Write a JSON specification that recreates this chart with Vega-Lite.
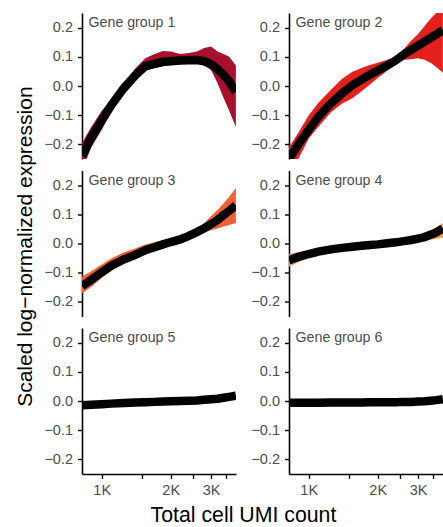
{
  "$schema": "https://vega.github.io/schema/vega-lite/v6.json",
  "padding": {"left": 14, "top": 13, "right": 0, "bottom": 0},
  "background": "white",
  "title": {"text": "Scaled log−normalized expression", "orient": "left", "anchor": "middle", "fontSize": 21, "fontWeight": "normal", "color": "black", "font": "Liberation Sans", "offset": 8, "dx": 23},
  "data": {"values": [
    {"group": "Gene group 1", "x": 820, "y": -0.24, "lo": -0.29, "hi": -0.195},
    {"group": "Gene group 1", "x": 900, "y": -0.176, "lo": -0.21, "hi": -0.14},
    {"group": "Gene group 1", "x": 1000, "y": -0.118, "lo": -0.15, "hi": -0.085},
    {"group": "Gene group 1", "x": 1100, "y": -0.066, "lo": -0.088, "hi": -0.045},
    {"group": "Gene group 1", "x": 1250, "y": -0.007, "lo": -0.025, "hi": 0.01},
    {"group": "Gene group 1", "x": 1400, "y": 0.036, "lo": 0.015, "hi": 0.06},
    {"group": "Gene group 1", "x": 1550, "y": 0.068, "lo": 0.052, "hi": 0.095},
    {"group": "Gene group 1", "x": 1700, "y": 0.076, "lo": 0.062, "hi": 0.11},
    {"group": "Gene group 1", "x": 1850, "y": 0.083, "lo": 0.068, "hi": 0.12},
    {"group": "Gene group 1", "x": 2000, "y": 0.085, "lo": 0.072, "hi": 0.118},
    {"group": "Gene group 1", "x": 2200, "y": 0.087, "lo": 0.075, "hi": 0.11},
    {"group": "Gene group 1", "x": 2400, "y": 0.088, "lo": 0.077, "hi": 0.113},
    {"group": "Gene group 1", "x": 2600, "y": 0.089, "lo": 0.078, "hi": 0.118},
    {"group": "Gene group 1", "x": 2800, "y": 0.085, "lo": 0.07, "hi": 0.13},
    {"group": "Gene group 1", "x": 3000, "y": 0.075, "lo": 0.055, "hi": 0.135},
    {"group": "Gene group 1", "x": 3200, "y": 0.058, "lo": 0.01, "hi": 0.118},
    {"group": "Gene group 1", "x": 3400, "y": 0.038, "lo": -0.04, "hi": 0.11},
    {"group": "Gene group 1", "x": 3600, "y": 0.015, "lo": -0.085, "hi": 0.1},
    {"group": "Gene group 1", "x": 3850, "y": -0.02, "lo": -0.14, "hi": 0.07},

    {"group": "Gene group 2", "x": 820, "y": -0.25, "lo": -0.3, "hi": -0.21},
    {"group": "Gene group 2", "x": 900, "y": -0.2, "lo": -0.25, "hi": -0.16},
    {"group": "Gene group 2", "x": 1000, "y": -0.15, "lo": -0.18, "hi": -0.1},
    {"group": "Gene group 2", "x": 1100, "y": -0.106, "lo": -0.14, "hi": -0.058},
    {"group": "Gene group 2", "x": 1250, "y": -0.059, "lo": -0.09, "hi": -0.013},
    {"group": "Gene group 2", "x": 1400, "y": -0.025, "lo": -0.06, "hi": 0.025},
    {"group": "Gene group 2", "x": 1550, "y": 0.003, "lo": -0.042, "hi": 0.049},
    {"group": "Gene group 2", "x": 1700, "y": 0.022, "lo": -0.018, "hi": 0.062},
    {"group": "Gene group 2", "x": 1850, "y": 0.039, "lo": 0.005, "hi": 0.072},
    {"group": "Gene group 2", "x": 2000, "y": 0.053, "lo": 0.027, "hi": 0.08},
    {"group": "Gene group 2", "x": 2200, "y": 0.07, "lo": 0.052, "hi": 0.09},
    {"group": "Gene group 2", "x": 2400, "y": 0.088, "lo": 0.078, "hi": 0.1},
    {"group": "Gene group 2", "x": 2600, "y": 0.108, "lo": 0.09, "hi": 0.127},
    {"group": "Gene group 2", "x": 2800, "y": 0.124, "lo": 0.092, "hi": 0.155},
    {"group": "Gene group 2", "x": 3000, "y": 0.138, "lo": 0.095, "hi": 0.178},
    {"group": "Gene group 2", "x": 3200, "y": 0.152, "lo": 0.09, "hi": 0.205},
    {"group": "Gene group 2", "x": 3400, "y": 0.165, "lo": 0.08, "hi": 0.23},
    {"group": "Gene group 2", "x": 3600, "y": 0.177, "lo": 0.065, "hi": 0.25},
    {"group": "Gene group 2", "x": 3850, "y": 0.192, "lo": 0.045, "hi": 0.27},

    {"group": "Gene group 3", "x": 820, "y": -0.146, "lo": -0.171, "hi": -0.114},
    {"group": "Gene group 3", "x": 900, "y": -0.124, "lo": -0.148, "hi": -0.095},
    {"group": "Gene group 3", "x": 1000, "y": -0.098, "lo": -0.118, "hi": -0.072},
    {"group": "Gene group 3", "x": 1100, "y": -0.076, "lo": -0.093, "hi": -0.051},
    {"group": "Gene group 3", "x": 1250, "y": -0.054, "lo": -0.07, "hi": -0.03},
    {"group": "Gene group 3", "x": 1400, "y": -0.039, "lo": -0.055, "hi": -0.017},
    {"group": "Gene group 3", "x": 1550, "y": -0.023, "lo": -0.038, "hi": -0.003},
    {"group": "Gene group 3", "x": 1700, "y": -0.013, "lo": -0.026, "hi": 0.004},
    {"group": "Gene group 3", "x": 1850, "y": -0.003, "lo": -0.016, "hi": 0.011},
    {"group": "Gene group 3", "x": 2000, "y": 0.005, "lo": -0.008, "hi": 0.018},
    {"group": "Gene group 3", "x": 2200, "y": 0.014, "lo": 0.002, "hi": 0.024},
    {"group": "Gene group 3", "x": 2400, "y": 0.026, "lo": 0.015, "hi": 0.037},
    {"group": "Gene group 3", "x": 2600, "y": 0.039, "lo": 0.03, "hi": 0.05},
    {"group": "Gene group 3", "x": 2800, "y": 0.052, "lo": 0.038, "hi": 0.07},
    {"group": "Gene group 3", "x": 3000, "y": 0.066, "lo": 0.045, "hi": 0.094},
    {"group": "Gene group 3", "x": 3200, "y": 0.08, "lo": 0.051, "hi": 0.115},
    {"group": "Gene group 3", "x": 3400, "y": 0.097, "lo": 0.058, "hi": 0.137},
    {"group": "Gene group 3", "x": 3600, "y": 0.112, "lo": 0.063, "hi": 0.16},
    {"group": "Gene group 3", "x": 3850, "y": 0.131, "lo": 0.07, "hi": 0.19},

    {"group": "Gene group 4", "x": 820, "y": -0.057, "lo": -0.08, "hi": -0.036},
    {"group": "Gene group 4", "x": 900, "y": -0.046, "lo": -0.064, "hi": -0.03},
    {"group": "Gene group 4", "x": 1000, "y": -0.036, "lo": -0.05, "hi": -0.022},
    {"group": "Gene group 4", "x": 1100, "y": -0.028, "lo": -0.04, "hi": -0.017},
    {"group": "Gene group 4", "x": 1250, "y": -0.02, "lo": -0.03, "hi": -0.01},
    {"group": "Gene group 4", "x": 1400, "y": -0.015, "lo": -0.024, "hi": -0.006},
    {"group": "Gene group 4", "x": 1550, "y": -0.011, "lo": -0.019, "hi": -0.003},
    {"group": "Gene group 4", "x": 1700, "y": -0.008, "lo": -0.016, "hi": 0.0},
    {"group": "Gene group 4", "x": 1850, "y": -0.005, "lo": -0.013, "hi": 0.003},
    {"group": "Gene group 4", "x": 2000, "y": -0.003, "lo": -0.011, "hi": 0.005},
    {"group": "Gene group 4", "x": 2200, "y": 0.001, "lo": -0.007, "hi": 0.009},
    {"group": "Gene group 4", "x": 2400, "y": 0.004, "lo": -0.004, "hi": 0.012},
    {"group": "Gene group 4", "x": 2600, "y": 0.008, "lo": 0.0, "hi": 0.016},
    {"group": "Gene group 4", "x": 2800, "y": 0.012, "lo": 0.003, "hi": 0.021},
    {"group": "Gene group 4", "x": 3000, "y": 0.017, "lo": 0.007, "hi": 0.026},
    {"group": "Gene group 4", "x": 3200, "y": 0.022, "lo": 0.01, "hi": 0.033},
    {"group": "Gene group 4", "x": 3400, "y": 0.03, "lo": 0.013, "hi": 0.043},
    {"group": "Gene group 4", "x": 3600, "y": 0.038, "lo": 0.016, "hi": 0.053},
    {"group": "Gene group 4", "x": 3850, "y": 0.052, "lo": 0.02, "hi": 0.07},

    {"group": "Gene group 5", "x": 820, "y": -0.015, "lo": -0.021, "hi": -0.009},
    {"group": "Gene group 5", "x": 900, "y": -0.013, "lo": -0.018, "hi": -0.008},
    {"group": "Gene group 5", "x": 1000, "y": -0.011, "lo": -0.016, "hi": -0.006},
    {"group": "Gene group 5", "x": 1100, "y": -0.009, "lo": -0.014, "hi": -0.004},
    {"group": "Gene group 5", "x": 1250, "y": -0.007, "lo": -0.011, "hi": -0.003},
    {"group": "Gene group 5", "x": 1400, "y": -0.005, "lo": -0.009, "hi": -0.001},
    {"group": "Gene group 5", "x": 1550, "y": -0.004, "lo": -0.008, "hi": 0.0},
    {"group": "Gene group 5", "x": 1700, "y": -0.003, "lo": -0.007, "hi": 0.001},
    {"group": "Gene group 5", "x": 1850, "y": -0.002, "lo": -0.006, "hi": 0.002},
    {"group": "Gene group 5", "x": 2000, "y": -0.001, "lo": -0.005, "hi": 0.003},
    {"group": "Gene group 5", "x": 2200, "y": 0.0, "lo": -0.004, "hi": 0.004},
    {"group": "Gene group 5", "x": 2400, "y": 0.001, "lo": -0.003, "hi": 0.005},
    {"group": "Gene group 5", "x": 2600, "y": 0.002, "lo": -0.002, "hi": 0.006},
    {"group": "Gene group 5", "x": 2800, "y": 0.004, "lo": 0.0, "hi": 0.008},
    {"group": "Gene group 5", "x": 3000, "y": 0.006, "lo": 0.001, "hi": 0.011},
    {"group": "Gene group 5", "x": 3200, "y": 0.008, "lo": 0.003, "hi": 0.013},
    {"group": "Gene group 5", "x": 3400, "y": 0.011, "lo": 0.005, "hi": 0.017},
    {"group": "Gene group 5", "x": 3600, "y": 0.014, "lo": 0.007, "hi": 0.021},
    {"group": "Gene group 5", "x": 3850, "y": 0.018, "lo": 0.01, "hi": 0.026},

    {"group": "Gene group 6", "x": 820, "y": -0.006, "lo": -0.01, "hi": -0.002},
    {"group": "Gene group 6", "x": 900, "y": -0.006, "lo": -0.01, "hi": -0.002},
    {"group": "Gene group 6", "x": 1000, "y": -0.006, "lo": -0.01, "hi": -0.002},
    {"group": "Gene group 6", "x": 1100, "y": -0.006, "lo": -0.009, "hi": -0.003},
    {"group": "Gene group 6", "x": 1250, "y": -0.005, "lo": -0.008, "hi": -0.002},
    {"group": "Gene group 6", "x": 1400, "y": -0.005, "lo": -0.008, "hi": -0.002},
    {"group": "Gene group 6", "x": 1550, "y": -0.005, "lo": -0.008, "hi": -0.002},
    {"group": "Gene group 6", "x": 1700, "y": -0.005, "lo": -0.008, "hi": -0.002},
    {"group": "Gene group 6", "x": 1850, "y": -0.004, "lo": -0.007, "hi": -0.001},
    {"group": "Gene group 6", "x": 2000, "y": -0.004, "lo": -0.007, "hi": -0.001},
    {"group": "Gene group 6", "x": 2200, "y": -0.004, "lo": -0.007, "hi": -0.001},
    {"group": "Gene group 6", "x": 2400, "y": -0.004, "lo": -0.007, "hi": -0.001},
    {"group": "Gene group 6", "x": 2600, "y": -0.003, "lo": -0.006, "hi": 0.0},
    {"group": "Gene group 6", "x": 2800, "y": -0.003, "lo": -0.006, "hi": 0.0},
    {"group": "Gene group 6", "x": 3000, "y": -0.002, "lo": -0.005, "hi": 0.001},
    {"group": "Gene group 6", "x": 3200, "y": -0.001, "lo": -0.004, "hi": 0.002},
    {"group": "Gene group 6", "x": 3400, "y": 0.001, "lo": -0.003, "hi": 0.005},
    {"group": "Gene group 6", "x": 3600, "y": 0.003, "lo": -0.001, "hi": 0.007},
    {"group": "Gene group 6", "x": 3850, "y": 0.006, "lo": 0.001, "hi": 0.011}
  ]},
  "vconcat": [
    {
      "title": {"text": "Total cell UMI count", "orient": "bottom", "anchor": "middle", "fontSize": 21.3, "fontWeight": "normal", "color": "black", "font": "Liberation Sans", "offset": 8},
      "columns": 2,
      "spacing": {"row": 11.5, "column": 53},
      "bounds": "flush",
      "concat": [
        {
          "transform": [{"filter": "datum.group == 'Gene group 1'"}],
          "width": 154, "height": 146,
          "layer": [
            {"mark": {"type": "area", "clip": true, "color": "#a8102e"},
             "encoding": {"x": {"field": "x", "type": "quantitative", "scale": {"type": "log", "domain": [820, 3855], "nice": false}, "axis": null},
                          "y": {"field": "lo", "type": "quantitative", "scale": {"domain": [-0.25, 0.25], "nice": false, "zero": false}, "axis": {"values": [-0.2, -0.1, 0, 0.1, 0.2], "tickCount": 20, "format": ".1f", "title": null, "labelOverlap": false}},
                          "y2": {"field": "hi"}}},
            {"mark": {"type": "line", "clip": true, "color": "black", "strokeWidth": 8.5, "strokeCap": "butt"},
             "encoding": {"x": {"field": "x", "type": "quantitative"}, "y": {"field": "y", "type": "quantitative"}}},
            {"transform": [{"filter": "datum.x == 820"}],
             "mark": {"type": "text", "align": "left", "baseline": "alphabetic", "fontSize": 14.2, "color": "#4d4d4d"},
             "encoding": {"x": {"datum": 876}, "y": {"datum": 0.201}, "text": {"field": "group"}}}
          ]
        },
        {
          "transform": [{"filter": "datum.group == 'Gene group 2'"}],
          "width": 154, "height": 146,
          "layer": [
            {"mark": {"type": "area", "clip": true, "color": "#e5201c"},
             "encoding": {"x": {"field": "x", "type": "quantitative", "scale": {"type": "log", "domain": [820, 3855], "nice": false}, "axis": null},
                          "y": {"field": "lo", "type": "quantitative", "scale": {"domain": [-0.25, 0.25], "nice": false, "zero": false}, "axis": {"values": [-0.2, -0.1, 0, 0.1, 0.2], "tickCount": 20, "format": ".1f", "title": null, "labelOverlap": false}},
                          "y2": {"field": "hi"}}},
            {"mark": {"type": "line", "clip": true, "color": "black", "strokeWidth": 8.5, "strokeCap": "butt"},
             "encoding": {"x": {"field": "x", "type": "quantitative"}, "y": {"field": "y", "type": "quantitative"}}},
            {"transform": [{"filter": "datum.x == 820"}],
             "mark": {"type": "text", "align": "left", "baseline": "alphabetic", "fontSize": 14.2, "color": "#4d4d4d"},
             "encoding": {"x": {"datum": 876}, "y": {"datum": 0.201}, "text": {"field": "group"}}}
          ]
        },
        {
          "transform": [{"filter": "datum.group == 'Gene group 3'"}],
          "width": 154, "height": 146,
          "layer": [
            {"mark": {"type": "area", "clip": true, "color": "#f45f33"},
             "encoding": {"x": {"field": "x", "type": "quantitative", "scale": {"type": "log", "domain": [820, 3855], "nice": false}, "axis": null},
                          "y": {"field": "lo", "type": "quantitative", "scale": {"domain": [-0.25, 0.25], "nice": false, "zero": false}, "axis": {"values": [-0.2, -0.1, 0, 0.1, 0.2], "tickCount": 20, "format": ".1f", "title": null, "labelOverlap": false}},
                          "y2": {"field": "hi"}}},
            {"mark": {"type": "line", "clip": true, "color": "black", "strokeWidth": 8.5, "strokeCap": "butt"},
             "encoding": {"x": {"field": "x", "type": "quantitative"}, "y": {"field": "y", "type": "quantitative"}}},
            {"transform": [{"filter": "datum.x == 820"}],
             "mark": {"type": "text", "align": "left", "baseline": "alphabetic", "fontSize": 14.2, "color": "#4d4d4d"},
             "encoding": {"x": {"datum": 876}, "y": {"datum": 0.201}, "text": {"field": "group"}}}
          ]
        },
        {
          "transform": [{"filter": "datum.group == 'Gene group 4'"}],
          "width": 154, "height": 146,
          "layer": [
            {"mark": {"type": "area", "clip": true, "color": "#fb9a4a"},
             "encoding": {"x": {"field": "x", "type": "quantitative", "scale": {"type": "log", "domain": [820, 3855], "nice": false}, "axis": null},
                          "y": {"field": "lo", "type": "quantitative", "scale": {"domain": [-0.25, 0.25], "nice": false, "zero": false}, "axis": {"values": [-0.2, -0.1, 0, 0.1, 0.2], "tickCount": 20, "format": ".1f", "title": null, "labelOverlap": false}},
                          "y2": {"field": "hi"}}},
            {"mark": {"type": "line", "clip": true, "color": "black", "strokeWidth": 8.5, "strokeCap": "butt"},
             "encoding": {"x": {"field": "x", "type": "quantitative"}, "y": {"field": "y", "type": "quantitative"}}},
            {"transform": [{"filter": "datum.x == 820"}],
             "mark": {"type": "text", "align": "left", "baseline": "alphabetic", "fontSize": 14.2, "color": "#4d4d4d"},
             "encoding": {"x": {"datum": 876}, "y": {"datum": 0.201}, "text": {"field": "group"}}}
          ]
        },
        {
          "transform": [{"filter": "datum.group == 'Gene group 5'"}],
          "width": 154, "height": 146,
          "layer": [
            {"mark": {"type": "area", "clip": true, "color": "#fdbb80"},
             "encoding": {"x": {"field": "x", "type": "quantitative", "scale": {"type": "log", "domain": [820, 3855], "nice": false},
                                "axis": {"values": [1000, 1500, 2000, 2500, 3000, 3500], "tickCount": 20, "labelExpr": "datum.value % 1000 == 0 ? (datum.value / 1000) + 'K' : ''", "title": null, "labelOverlap": false}},
                          "y": {"field": "lo", "type": "quantitative", "scale": {"domain": [-0.25, 0.25], "nice": false, "zero": false}, "axis": {"values": [-0.2, -0.1, 0, 0.1, 0.2], "tickCount": 20, "format": ".1f", "title": null, "labelOverlap": false}},
                          "y2": {"field": "hi"}}},
            {"mark": {"type": "line", "clip": true, "color": "black", "strokeWidth": 8.5, "strokeCap": "butt"},
             "encoding": {"x": {"field": "x", "type": "quantitative"}, "y": {"field": "y", "type": "quantitative"}}},
            {"transform": [{"filter": "datum.x == 820"}],
             "mark": {"type": "text", "align": "left", "baseline": "alphabetic", "fontSize": 14.2, "color": "#4d4d4d"},
             "encoding": {"x": {"datum": 876}, "y": {"datum": 0.201}, "text": {"field": "group"}}}
          ]
        },
        {
          "transform": [{"filter": "datum.group == 'Gene group 6'"}],
          "width": 154, "height": 146,
          "layer": [
            {"mark": {"type": "area", "clip": true, "color": "#fdd5a5"},
             "encoding": {"x": {"field": "x", "type": "quantitative", "scale": {"type": "log", "domain": [820, 3855], "nice": false},
                                "axis": {"values": [1000, 1500, 2000, 2500, 3000, 3500], "tickCount": 20, "labelExpr": "datum.value % 1000 == 0 ? (datum.value / 1000) + 'K' : ''", "title": null, "labelOverlap": false}},
                          "y": {"field": "lo", "type": "quantitative", "scale": {"domain": [-0.25, 0.25], "nice": false, "zero": false}, "axis": {"values": [-0.2, -0.1, 0, 0.1, 0.2], "tickCount": 20, "format": ".1f", "title": null, "labelOverlap": false}},
                          "y2": {"field": "hi"}}},
            {"mark": {"type": "line", "clip": true, "color": "black", "strokeWidth": 8.5, "strokeCap": "butt"},
             "encoding": {"x": {"field": "x", "type": "quantitative"}, "y": {"field": "y", "type": "quantitative"}}},
            {"transform": [{"filter": "datum.x == 820"}],
             "mark": {"type": "text", "align": "left", "baseline": "alphabetic", "fontSize": 14.2, "color": "#4d4d4d"},
             "encoding": {"x": {"datum": 876}, "y": {"datum": 0.201}, "text": {"field": "group"}}}
          ]
        }
      ]
    }
  ],
  "config": {
    "view": {"stroke": null},
    "font": "Liberation Sans",
    "text": {"font": "Liberation Sans"},
    "axis": {"grid": false, "labelOverlap": false, "domainColor": "black", "domainWidth": 1.6, "tickColor": "black", "tickWidth": 1.4, "tickSize": 4.5, "labelFontSize": 14.5, "labelColor": "#4d4d4d", "labelFont": "Liberation Sans", "labelPadding": 5}
  }
}
